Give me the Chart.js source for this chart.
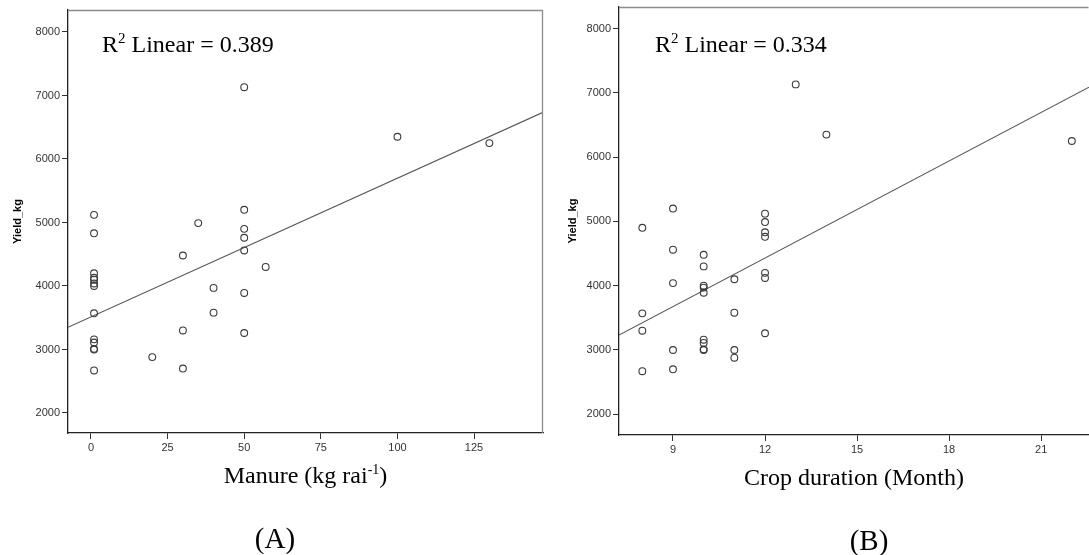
<!DOCTYPE html>
<html><head><meta charset="utf-8">
<script src="https://cdn.jsdelivr.net/npm/chart.js@4.4.0/dist/chart.umd.min.js"></script>
<style>
html,body{margin:0;padding:0;background:#fff;width:1089px;height:555px;overflow:hidden}
#ca{position:absolute;left:0;top:0}
#cb{position:absolute;left:545px;top:0}
</style></head><body>
<canvas id="ca" width="545" height="555"></canvas>
<canvas id="cb" width="544" height="555"></canvas>
<script>
// ---- Data (A): Manure vs Yield ----
const manureX = [1,1,1,1,1,1,1,1,1,1,1,1,1, 20, 30,30,30, 35, 40,40, 50,50,50,50,50,50,50, 57, 100, 130];
const manureYield = [5120,4830,4200,4130,4100,4040,4000,3570,3160,3110,3010,3000,2670, 2880, 4480,3300,2700, 4990, 3970,3580, 7130,5200,4900,4760,4560,3890,3260, 4300, 6350, 6250];
const manureFitX = [-7.5, 147.5];
const manureFitY = [3350, 6735];
const manureTicks = [0,25,50,75,100,125];
const yieldTicks = [2000,3000,4000,5000,6000,7000,8000];

// ---- Data (B): Crop duration vs Yield ----
const durationX = [8,8,8,8, 9,9,9,9,9, 10,10,10,10,10,10,10,10,10, 11,11,11,11, 12,12,12,12,12,12,12, 13, 14, 22];
const durationYield = [4900,3570,3300,2670, 5200,4560,4040,3000,2700, 4480,4300,4000,3970,3890,3160,3110,3010,3000, 4100,3580,3000,2880, 5120,4990,4830,4760,4200,4120,3260, 7130, 6350, 6250];
const durationFitX = [7.24, 22.56];
const durationFitY = [3233, 7086];
const durationTicks = [9,12,15,18,21];

const SERIF = "'Liberation Serif','Times New Roman',serif";
const SANS = "'Liberation Sans',Arial,sans-serif";

function zip(xs, ys){ return xs.map((x,i)=>({x:x, y:ys[i]})); }

function drawRich(ctx, parts, x, y, align){
  let w = 0;
  parts.forEach(p=>{ ctx.font = p.size+'px '+SERIF; w += ctx.measureText(p.t).width; });
  let cx = align==='center' ? x - w/2 : x;
  parts.forEach(p=>{
    ctx.font = p.size+'px '+SERIF;
    ctx.fillText(p.t, cx, y + (p.dy||0));
    cx += ctx.measureText(p.t).width;
  });
}

function annotPlugin(cfg){
  return {
    id:'annot',
    afterDraw(chart){
      const ctx = chart.ctx, a = chart.chartArea;
      ctx.save();
      // gray top (& right) frame
      ctx.strokeStyle = '#8c8c8c';
      ctx.lineWidth = 1.3;
      ctx.beginPath();
      ctx.moveTo(a.left, a.top+0.5);
      ctx.lineTo(a.right-0.5, a.top+0.5);
      if (cfg.rightFrame) ctx.lineTo(a.right-0.5, a.bottom);
      ctx.stroke();
      ctx.fillStyle = '#000';
      ctx.textBaseline = 'alphabetic';
      ctx.textAlign = 'left';
      // R^2 text
      drawRich(ctx, [{t:'R',size:24},{t:'2',size:15,dy:-9},{t:' Linear = '+cfg.r2,size:24}], a.left+cfg.r2dx, 52, 'left');
      // x-axis title
      drawRich(ctx, cfg.xtitle, (a.left+a.right)/2, a.bottom+50, 'center');
      // panel label
      drawRich(ctx, [{t:cfg.panel,size:29}], cfg.panelX, cfg.panelY, 'center');
      ctx.restore();
    }
  };
}

function makeChart(id, o){
  return new Chart(document.getElementById(id), {
    type:'scatter',
    data:{datasets:[
      {data: zip(o.xs, o.ys), pointRadius:3.4, pointHoverRadius:3.4, pointBorderWidth:1.1,
       borderColor:'#3a3a3a', backgroundColor:'rgba(0,0,0,0)', pointBackgroundColor:'rgba(0,0,0,0)'},
      {data: zip(o.fx, o.fy), showLine:true, borderColor:'#555', borderWidth:1.1, pointRadius:0, fill:false}
    ]},
    options:{
      responsive:false, animation:false,
      layout:{padding:o.pad, autoPadding:false},
      plugins:{legend:{display:false}, tooltip:{enabled:false}},
      scales:{
        x:{type:'linear', min:o.xmin, max:o.xmax,
           afterBuildTicks:s=>{ s.ticks = o.xticks.map(v=>({value:v})); },
           ticks:{font:{family:SANS,size:11}, color:'#333', padding:2, maxRotation:0, callback:v=>String(v)},
           grid:{drawOnChartArea:false, drawTicks:true, tickLength:6, color:'#333'},
           border:{color:'#222', width:1.3},
           afterFit:s=>{ s.height = o.xh; s.paddingLeft = 0; s.paddingRight = 0; }},
        y:{type:'linear', min:o.ymin, max:o.ymax,
           afterBuildTicks:s=>{ s.ticks = yieldTicks.map(v=>({value:v})); },
           ticks:{font:{family:SANS,size:11}, color:'#333', padding:2, callback:v=>String(v)},
           grid:{drawOnChartArea:false, drawTicks:true, tickLength:6, color:'#333'},
           border:{color:'#222', width:1.3},
           title:{display:true, text:'Yield_kg', font:{family:SANS,size:11,weight:'bold'}, color:'#000', padding:{top:o.ytp,bottom:0}},
           afterFit:s=>{ s.width = o.yw; s.paddingTop = 0; s.paddingBottom = 0; }}
      }
    },
    plugins:[annotPlugin(o.annot)]
  });
}

makeChart('ca', {
  xs:manureX, ys:manureYield, fx:manureFitX, fy:manureFitY,
  xmin:-7.5, xmax:147.5, ymin:1685, ymax:8346, xticks:manureTicks,
  pad:{left:0, top:10, right:2, bottom:0}, xh:122, yw:68, ytp:11,
  annot:{r2:'0.389', r2dx:34, panel:'(A)', panelX:275, panelY:548, rightFrame:true,
    xtitle:[{t:'Manure (kg rai',size:24},{t:'-1',size:14,dy:-9},{t:')',size:24}]}
});

makeChart('cb', {
  xs:durationX, ys:durationYield, fx:durationFitX, fy:durationFitY,
  xmin:7.24, xmax:22.56, ymin:1678, ymax:8334, xticks:durationTicks,
  pad:{left:0, top:7, right:0, bottom:0}, xh:120, yw:74, ytp:21,
  annot:{r2:'0.334', r2dx:36, panel:'(B)', panelX:324, panelY:550, rightFrame:false,
    xtitle:[{t:'Crop duration (Month)',size:24}]}
});
</script>
</body></html>
